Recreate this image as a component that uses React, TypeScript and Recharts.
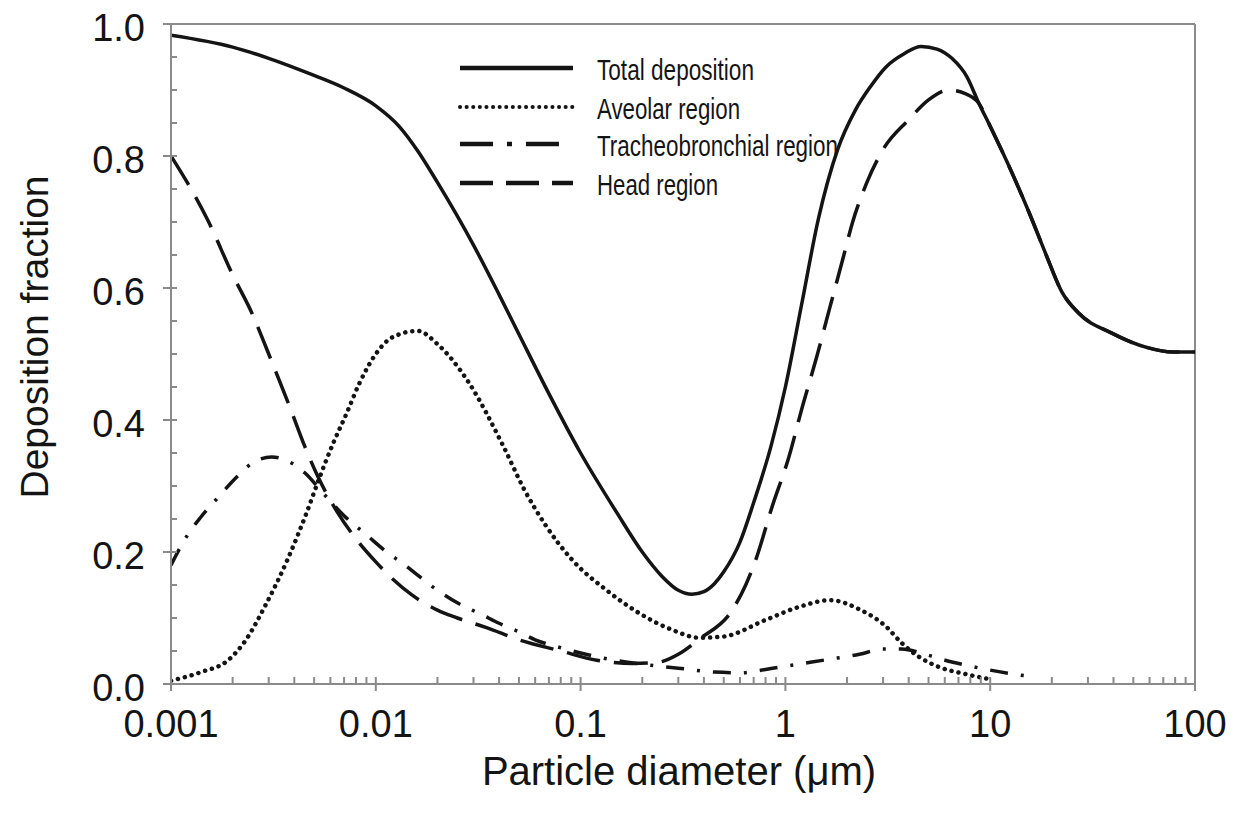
import { LineChart, Line, XAxis, YAxis, ReferenceLine } from "recharts";

// particle diameter (um) -> deposition fraction
const totalD = [0.001, 0.002, 0.003, 0.005, 0.007, 0.01, 0.013, 0.016, 0.02, 0.03, 0.04, 0.05, 0.07, 0.1, 0.15, 0.2, 0.25, 0.3, 0.35, 0.4, 0.45, 0.5, 0.6, 0.7, 0.85, 1, 1.2, 1.45, 1.8, 2.2, 2.6, 3.1, 3.8, 4.6, 5.5, 6.5, 7.7, 8.8, 10, 12.8, 15.5, 18.6, 22.3, 27, 39, 58, 78, 100];
const totalV = [0.983, 0.965, 0.948, 0.922, 0.903, 0.876, 0.845, 0.808, 0.76, 0.665, 0.59, 0.53, 0.44, 0.35, 0.26, 0.2, 0.163, 0.142, 0.136, 0.14, 0.152, 0.17, 0.215, 0.275, 0.36, 0.45, 0.575, 0.705, 0.81, 0.87, 0.905, 0.935, 0.955, 0.966, 0.962, 0.948, 0.92, 0.88, 0.845, 0.774, 0.714, 0.653, 0.595, 0.562, 0.532, 0.51, 0.503, 0.503];

const alveolarD = [0.001, 0.0014, 0.0019, 0.0023, 0.0029, 0.0037, 0.0046, 0.0053, 0.0062, 0.0072, 0.0083, 0.01, 0.012, 0.016, 0.02, 0.028, 0.042, 0.053, 0.067, 0.091, 0.134, 0.194, 0.28, 0.38, 0.5, 0.8, 1.17, 1.66, 2.3, 3.1, 3.7, 4.5, 5.6, 7.6, 10];
const alveolarV = [0.005, 0.018, 0.036, 0.065, 0.12, 0.188, 0.26, 0.312, 0.365, 0.41, 0.455, 0.5, 0.525, 0.535, 0.515, 0.46, 0.36, 0.295, 0.242, 0.188, 0.142, 0.107, 0.082, 0.07, 0.072, 0.097, 0.117, 0.127, 0.113, 0.087, 0.062, 0.041, 0.026, 0.015, 0.007];

const tbD = [0.001, 0.0012, 0.0014, 0.0017, 0.0021, 0.0025, 0.0031, 0.0037, 0.0045, 0.0055, 0.007, 0.009, 0.0113, 0.0135, 0.02, 0.025, 0.033, 0.04, 0.05, 0.06, 0.08, 0.1, 0.13, 0.2, 0.3, 0.45, 0.6, 0.8, 1.1, 1.6, 2.3, 3, 3.7, 4.6, 5.7, 7.5, 10, 13, 16];
const tbV = [0.18, 0.225, 0.253, 0.283, 0.314, 0.335, 0.344, 0.338, 0.32, 0.29, 0.255, 0.226, 0.2, 0.183, 0.142, 0.123, 0.105, 0.092, 0.079, 0.067, 0.055, 0.047, 0.039, 0.03, 0.024, 0.018, 0.017, 0.022, 0.029, 0.037, 0.045, 0.053, 0.053, 0.047, 0.038, 0.029, 0.021, 0.015, 0.011];

const headD = [0.001, 0.0012, 0.0015, 0.002, 0.0025, 0.003, 0.0038, 0.0045, 0.0052, 0.0065, 0.008, 0.01, 0.012, 0.015, 0.02, 0.025, 0.035, 0.05, 0.08, 0.12, 0.18, 0.24, 0.3, 0.38, 0.55, 0.64, 0.72, 0.86, 1.04, 1.21, 1.42, 1.65, 1.9, 2.13, 2.5, 3, 4, 5, 6.3, 7.5, 8.8, 10, 12.8, 15.5, 18.6, 22.3, 27, 39, 58, 78, 100];
const headV = [0.8, 0.76, 0.705, 0.62, 0.56, 0.5, 0.42, 0.36, 0.315, 0.26, 0.22, 0.185, 0.16, 0.135, 0.112, 0.1, 0.085, 0.067, 0.05, 0.036, 0.031, 0.033, 0.045, 0.068, 0.112, 0.15, 0.19, 0.268, 0.344, 0.42, 0.495, 0.571, 0.642, 0.7, 0.76, 0.81, 0.855, 0.885, 0.9, 0.895, 0.88, 0.845, 0.774, 0.714, 0.653, 0.595, 0.562, 0.532, 0.51, 0.503, 0.503];

const xMajorTicks = [0.001, 0.01, 0.1, 1, 10, 100];
const xMajorLabels = ["0.001", "0.01", "0.1", "1", "10", "100"];
const xMinorSteps = [2, 3, 4, 5, 6, 7, 8, 9];
const yMajorTicks = [0, 0.2, 0.4, 0.6, 0.8, 1];
const yMajorLabels = ["0.0", "0.2", "0.4", "0.6", "0.8", "1.0"];
const yMinorTicks = [0.05, 0.1, 0.15, 0.25, 0.3, 0.35, 0.45, 0.5, 0.55, 0.65, 0.7, 0.75, 0.85, 0.9, 0.95];

const legendLabels = ["Total deposition", "Aveolar region", "Tracheobronchial region", "Head region"];

const GRAY = "#8a8a8a";
const INK = "#141414";
const FONT = "'Liberation Sans', Arial, Helvetica, sans-serif";

const DOTS = "0.1 7";
const DASH_DOT = "18 13 3 13";
const DASH = "34 14";

const toPoints = (d: number[], v: number[]) => d.map((x, i) => ({ d: x, v: v[i] }));
const totalData = toPoints(totalD, totalV);
const alveolarData = toPoints(alveolarD, alveolarV);
const tbData = toPoints(tbD, tbV);
const headData = toPoints(headD, headV);

const xTicks = [...xMajorTicks, ...xMajorTicks.slice(0, -1).flatMap(m => xMinorSteps.map(s => m * s))];
const yTicks = [...yMajorTicks, ...yMinorTicks];

function XTick(props: any) {
  const { x, y, payload } = props;
  const i = xMajorTicks.indexOf(payload.value);
  return (
    <g>
      <line x1={x} x2={x} y1={y - 7} y2={i >= 0 ? y + 7 : y} stroke={GRAY} strokeWidth={2} />
      {i >= 0 && (
        <text x={x} y={y + 53} textAnchor="middle" fontSize={38} fill={INK} fontFamily={FONT}>
          {xMajorLabels[i]}
        </text>
      )}
    </g>
  );
}

function YTick(props: any) {
  const { x, y, payload } = props;
  const i = yMajorTicks.indexOf(payload.value);
  return (
    <g>
      <line x1={i >= 0 ? x - 8 : x} x2={x + 6} y1={y} y2={y} stroke={GRAY} strokeWidth={2} />
      {i >= 0 && (
        <text x={x - 26} y={y + 17} textAnchor="end" fontSize={38} fill={INK} fontFamily={FONT}>
          {yMajorLabels[i]}
        </text>
      )}
    </g>
  );
}

function XTitle(props: any) {
  const vb = props.viewBox;
  return (
    <text x={vb.x + vb.width / 2 - 4} y={vb.y + 101} textAnchor="middle" fontSize={40} fill={INK} fontFamily={FONT}>
      Particle diameter (μm)
    </text>
  );
}

function YTitle(props: any) {
  const vb = props.viewBox;
  const cx = vb.x - 23;
  const cy = vb.y + vb.height / 2 - 17;
  return (
    <text x={cx} y={cy} transform={`rotate(-90 ${cx} ${cy})`} textAnchor="middle" fontSize={39} fill={INK} fontFamily={FONT}>
      Deposition fraction
    </text>
  );
}

// legend samples use longer dashes than the curves, as in the figure
const legendDash = [undefined, "0.1 6.5", "33 14 5 14", "33 13"];
const legendWidths = [157, 143, 241, 121];
const legendRows = [23, 62, 99, 138];

function LegendBox() {
  return (
    <svg width={480} height={170} style={{ position: "absolute", left: 432, top: 37 }}>
      {legendLabels.map((name, i) => (
        <g key={name}>
          <line x1={20} x2={133} y1={legendRows[i]} y2={legendRows[i]} stroke={INK}
            strokeWidth={i === 1 ? 4 : 4.5} strokeDasharray={legendDash[i]}
            strokeLinecap={i === 1 ? "round" : "butt"} />
          <text x={157} y={legendRows[i] + 12} fontSize={30} fill={INK}
            fontFamily="'Liberation Sans Narrow', 'Liberation Sans', Arial, sans-serif"
            textLength={legendWidths[i]} lengthAdjust="spacingAndGlyphs">
            {name}
          </text>
        </g>
      ))}
    </svg>
  );
}

export default function App() {
  return (
    <div style={{ position: "relative", width: 1225, height: 803, fontFamily: FONT }}>
      <LineChart width={1225} height={803} margin={{ top: 16, right: 38, bottom: 7, left: 63 }}>
        <XAxis dataKey="d" type="number" scale="log" domain={[0.001, 100]} allowDataOverflow
          ticks={xTicks} interval={0} tickSize={0} tickMargin={0} tickLine={false}
          tick={<XTick />} height={120} axisLine={{ stroke: GRAY, strokeWidth: 2 }}
          label={<XTitle />} />
        <YAxis type="number" domain={[0, 1]} allowDataOverflow ticks={yTicks} interval={0}
          tickSize={0} tickMargin={0} tickLine={false} tick={<YTick />} width={100}
          axisLine={{ stroke: GRAY, strokeWidth: 2 }} label={<YTitle />} />
        <ReferenceLine y={1} stroke={GRAY} strokeWidth={2} />
        <ReferenceLine x={100} stroke={GRAY} strokeWidth={2} />
        <Line data={headData} dataKey="v" type="monotone" stroke={INK} strokeWidth={3.5}
          strokeDasharray={DASH} dot={false} activeDot={false} isAnimationActive={false} />
        <Line data={tbData} dataKey="v" type="monotone" stroke={INK} strokeWidth={3.5}
          strokeDasharray={DASH_DOT} dot={false} activeDot={false} isAnimationActive={false} />
        <Line data={alveolarData} dataKey="v" type="monotone" stroke={INK} strokeWidth={4.5}
          strokeDasharray={DOTS} strokeLinecap="round" dot={false} activeDot={false} isAnimationActive={false} />
        <Line data={totalData} dataKey="v" type="monotone" stroke={INK} strokeWidth={3.5}
          dot={false} activeDot={false} isAnimationActive={false} />
      </LineChart>
      <LegendBox />
    </div>
  );
}
